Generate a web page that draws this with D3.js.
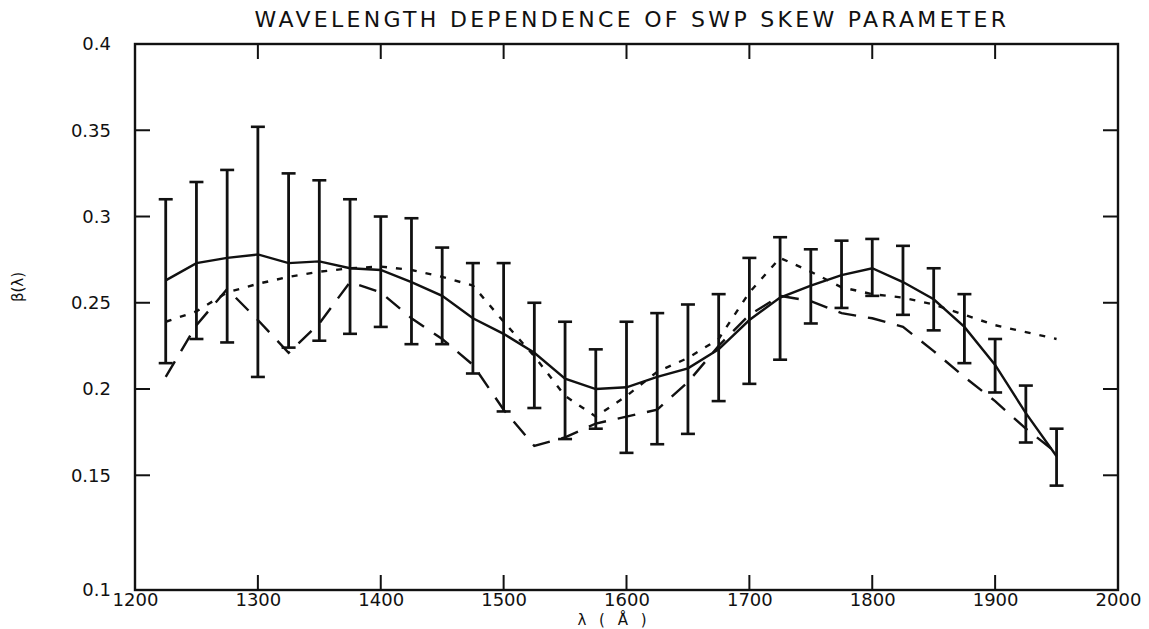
<!DOCTYPE html>
<html>
<head>
<meta charset="utf-8">
<script src="https://cdn.jsdelivr.net/npm/d3@7"></script>
<style>
  body { margin: 0; background: #fff; }
  text { font-family: 'DejaVu Sans', sans-serif; fill: #111; }
</style>
</head>
<body>
<svg id="main"></svg>
<script>
// wavelengths (Angstrom)
const lambda = [1225, 1250, 1275, 1300, 1325, 1350, 1375, 1400, 1425, 1450,
  1475, 1500, 1525, 1550, 1575, 1600, 1625, 1650, 1675, 1700,
  1725, 1750, 1775, 1800, 1825, 1850, 1875, 1900, 1925, 1950];

// mean skew (solid line)
const meanBeta = [0.263, 0.273, 0.276, 0.278, 0.273, 0.274, 0.270, 0.269, 0.262, 0.254,
  0.241, 0.232, 0.221, 0.206, 0.200, 0.201, 0.207, 0.212, 0.223, 0.240,
  0.253, 0.260, 0.266, 0.270, 0.262, 0.252, 0.236, 0.214, 0.186, 0.161];

// error bar ends
const errTop = [0.310, 0.320, 0.327, 0.352, 0.325, 0.321, 0.310, 0.300, 0.299, 0.282,
  0.273, 0.273, 0.250, 0.239, 0.223, 0.239, 0.244, 0.249, 0.255, 0.276,
  0.288, 0.281, 0.286, 0.287, 0.283, 0.270, 0.255, 0.229, 0.202, 0.177];
const errBottom = [0.215, 0.229, 0.227, 0.207, 0.224, 0.228, 0.232, 0.236, 0.226, 0.226,
  0.209, 0.187, 0.189, 0.171, 0.177, 0.163, 0.168, 0.174, 0.193, 0.203,
  0.217, 0.238, 0.247, 0.254, 0.243, 0.234, 0.215, 0.198, 0.169, 0.144];

// short-dash curve
const dotBeta = [0.239, 0.245, 0.256, 0.261, 0.265, 0.268, 0.270, 0.271, 0.269, 0.265,
  0.260, 0.239, 0.219, 0.196, 0.184, 0.196, 0.210, 0.218, 0.229, 0.256,
  0.276, 0.268, 0.259, 0.255, 0.253, 0.249, 0.243, 0.237, 0.233, 0.229];

// long-dash curve
const dashBeta = [0.207, 0.237, 0.258, 0.240, 0.221, 0.238, 0.262, 0.256, 0.241, 0.229,
  0.214, 0.188, 0.167, 0.172, 0.180, 0.184, 0.188, 0.204, 0.225, 0.243,
  0.254, 0.251, 0.244, 0.241, 0.236, 0.222, 0.207, 0.193, 0.177, 0.163];

const xTicks = [1200, 1300, 1400, 1500, 1600, 1700, 1800, 1900, 2000];
const yBottom = 0.0835; // bottom edge of the frame, labelled "0.1"
const yTicks = [yBottom, 0.15, 0.2, 0.25, 0.3, 0.35, 0.4];

const width = 1149, height = 629;
const plotL = 135, plotR = 1118, plotT = 44, plotB = 590;

const svg = d3.select('#main')
  .attr('width', width)
  .attr('height', height);

const x = d3.scaleLinear().domain([1200, 2000]).range([plotL, plotR]);
const y = d3.scaleLinear().domain([yBottom, 0.4]).range([plotB, plotT]);

const inner = v => v !== 1200 && v !== 2000;
const innerY = v => v !== yBottom && v !== 0.4;

// title
svg.append('text')
  .text('WAVELENGTH DEPENDENCE OF SWP SKEW PARAMETER')
  .attr('x', 632).attr('y', 27)
  .attr('text-anchor', 'middle')
  .attr('font-size', 22)
  .attr('letter-spacing', 3.3);

// frame
svg.append('rect')
  .attr('x', plotL).attr('y', plotT)
  .attr('width', plotR - plotL).attr('height', plotB - plotT)
  .attr('fill', 'none').attr('stroke', '#111').attr('stroke-width', 2.4);

// bottom axis with labels
const xb = svg.append('g')
  .attr('transform', `translate(0,${plotB})`)
  .call(d3.axisBottom(x).tickValues(xTicks).tickSize(0).tickPadding(3)
    .tickFormat(d3.format('d')));
xb.select('.domain').remove();
xb.selectAll('text').attr('font-size', 18).attr('dy', '0.72em');
svg.selectAll('.xtb')
  .data(xTicks.filter(inner)).enter().append('line')
  .attr('x1', d => x(d)).attr('x2', d => x(d))
  .attr('y1', plotB).attr('y2', plotB - 15)
  .attr('stroke', '#111').attr('stroke-width', 2);
svg.selectAll('.xtt')
  .data(xTicks.filter(inner)).enter().append('line')
  .attr('x1', d => x(d)).attr('x2', d => x(d))
  .attr('y1', plotT).attr('y2', plotT + 15)
  .attr('stroke', '#111').attr('stroke-width', 2);

// left axis with labels
const yl = svg.append('g')
  .attr('transform', `translate(${plotL},0)`)
  .call(d3.axisLeft(y).tickValues(yTicks).tickSize(0).tickPadding(24)
    .tickFormat(d => d === yBottom ? '0.1' : d3.format('')(d)));
yl.select('.domain').remove();
yl.selectAll('text').attr('font-size', 18);
svg.selectAll('.ytl')
  .data(yTicks.filter(innerY)).enter().append('line')
  .attr('x1', plotL).attr('x2', plotL + 15)
  .attr('y1', d => y(d)).attr('y2', d => y(d))
  .attr('stroke', '#111').attr('stroke-width', 2);
svg.selectAll('.ytr')
  .data(yTicks.filter(innerY)).enter().append('line')
  .attr('x1', plotR).attr('x2', plotR - 15)
  .attr('y1', d => y(d)).attr('y2', d => y(d))
  .attr('stroke', '#111').attr('stroke-width', 2);

// axis titles
svg.append('text')
  .text('\u03B2(\u03BB)')
  .attr('transform', `translate(23,${(plotT + plotB) / 2 - 30}) rotate(-90)`)
  .attr('text-anchor', 'middle')
  .attr('font-size', 15);

svg.append('text')
  .text('\u03BB  ( \u00C5 )')
  .attr('x', 614).attr('y', 625)
  .attr('text-anchor', 'middle')
  .attr('font-size', 15)
  .attr('letter-spacing', 4);

// curves
const pts = vals => lambda.map((l, i) => [l, vals[i]]);
const line = d3.line().x(d => x(d[0])).y(d => y(d[1]));

svg.append('path')
  .attr('d', line(pts(dashBeta)))
  .attr('fill', 'none').attr('stroke', '#111').attr('stroke-width', 2.4)
  .attr('stroke-dasharray', '18,12');

svg.append('path')
  .attr('d', line(pts(dotBeta)))
  .attr('fill', 'none').attr('stroke', '#111').attr('stroke-width', 2.4)
  .attr('stroke-dasharray', '6,9');

svg.append('path')
  .attr('d', line(pts(meanBeta)))
  .attr('fill', 'none').attr('stroke', '#111').attr('stroke-width', 2.4);

// error bars
const bars = svg.selectAll('.err')
  .data(lambda.map((l, i) => ({ l, lo: errBottom[i], hi: errTop[i] })))
  .enter().append('g').attr('class', 'err');
bars.append('line')
  .attr('x1', d => x(d.l)).attr('x2', d => x(d.l))
  .attr('y1', d => y(d.lo)).attr('y2', d => y(d.hi))
  .attr('stroke', '#111').attr('stroke-width', 2.8);
bars.append('line')
  .attr('x1', d => x(d.l) - 7).attr('x2', d => x(d.l) + 7)
  .attr('y1', d => y(d.hi)).attr('y2', d => y(d.hi))
  .attr('stroke', '#111').attr('stroke-width', 2.6);
bars.append('line')
  .attr('x1', d => x(d.l) - 7).attr('x2', d => x(d.l) + 7)
  .attr('y1', d => y(d.lo)).attr('y2', d => y(d.lo))
  .attr('stroke', '#111').attr('stroke-width', 2.6);
</script>
</body>
</html>
